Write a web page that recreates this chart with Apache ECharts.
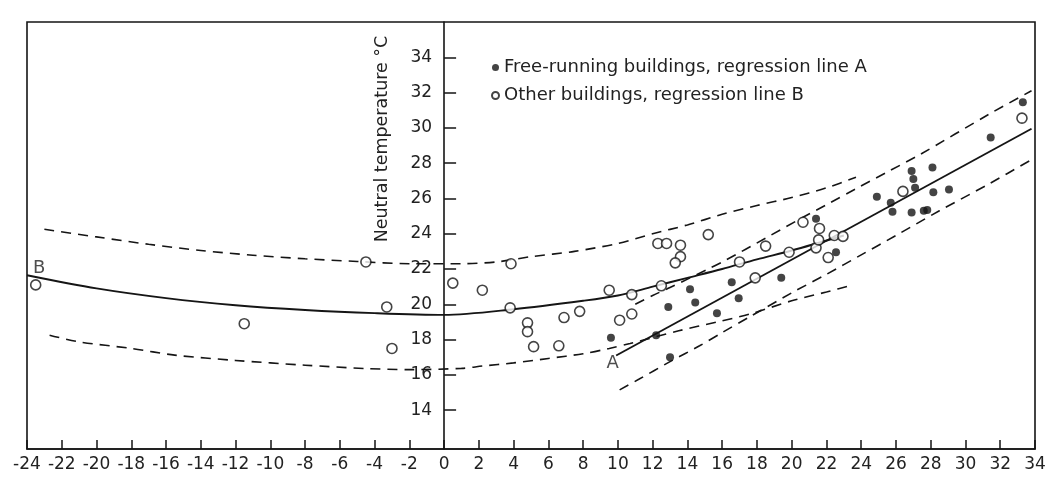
<!DOCTYPE html>
<html>
<head>
<meta charset="utf-8">
<script src="https://cdn.jsdelivr.net/npm/echarts@6/dist/echarts.min.js"></script>
<style>
html,body{margin:0;padding:0;background:#fff;}
#chart{width:1050px;height:477px;}
</style>
</head>
<body>
<div id="chart"></div>
<script>
// ---- data ----
const xTicks = { min: -24, max: 34, step: 2 };
const yTickValues = [14, 16, 18, 20, 22, 24, 26, 28, 30, 32, 34];
const yRange = [11.8, 36];

const seriesNames = ['Free-running buildings, regression line A', 'Other buildings, regression line B'];
const yAxisTitle = 'Neutral temperature °C';

// Free-running buildings (filled dots)
const freeRunning = [
  [9.6, 18.1], [12.2, 18.25], [13.0, 17.0], [12.9, 19.85], [14.15, 20.85],
  [14.45, 20.1], [15.7, 19.5], [16.55, 21.25], [16.95, 20.35], [19.4, 21.5],
  [21.4, 24.85], [22.55, 22.95], [24.9, 26.1], [25.7, 25.75], [25.8, 25.25],
  [26.9, 27.55], [27.0, 27.1], [27.1, 26.6], [26.9, 25.2], [27.6, 25.3],
  [27.8, 25.35], [28.1, 27.75], [28.15, 26.35], [29.05, 26.5], [31.45, 29.45],
  [33.3, 31.45]
];

// Other buildings (open circles)
const otherBuildings = [
  [-23.5, 21.1], [-11.5, 18.9], [-4.5, 22.4], [-3.3, 19.85], [-3.0, 17.5],
  [0.5, 21.2], [2.2, 20.8], [3.85, 22.3], [3.8, 19.8], [4.8, 18.95],
  [4.8, 18.45], [5.15, 17.6], [6.6, 17.65], [6.9, 19.25], [7.8, 19.6],
  [9.5, 20.8], [10.1, 19.1], [10.8, 19.45], [10.8, 20.55], [12.5, 21.05],
  [12.3, 23.45], [12.8, 23.45], [13.6, 23.35], [13.6, 22.7], [13.3, 22.35],
  [15.2, 23.95], [17.0, 22.4], [17.9, 21.5], [18.5, 23.3], [19.85, 22.95],
  [20.65, 24.65], [21.4, 23.2], [21.55, 23.65], [21.6, 24.3], [22.45, 23.9],
  [22.95, 23.85], [22.1, 22.65], [26.4, 26.4], [33.25, 30.55]
];

// Regression line A (straight)
const lineA = [[9.9, 17.1], [33.8, 29.95]];
const lineAUpper = [
  [11, 20.0], [12, 20.5], [13, 20.95], [15.3, 22.05], [16.2, 22.5], [18.5, 23.75],
  [20.5, 24.85], [22.2, 25.75], [23.7, 26.55], [25.5, 27.5], [27.4, 28.5],
  [31.4, 30.8], [33.8, 32.1]
];
const lineALower = [
  [10.1, 15.15], [11.2, 15.75], [13, 16.75], [14.7, 17.65], [16, 18.4], [17.6, 19.3],
  [20, 20.65], [22, 21.7], [24, 22.8], [26, 23.9], [28.5, 25.3], [31.4, 26.85], [33.8, 28.2]
];

// Regression line B (curved)
const lineB = [
  [-24, 21.65], [-20, 20.9], [-16, 20.35], [-12, 19.95], [-8, 19.68], [-4, 19.5],
  [0, 19.4], [4, 19.72], [8, 20.2], [10, 20.5], [12, 21.0], [14, 21.5], [16, 22.0],
  [18, 22.55], [20, 23.05], [23, 23.9]
];
const lineBUpper = [
  [-23, 24.25], [-20, 23.82], [-17, 23.4], [-14, 23.05], [-11, 22.78], [-8, 22.58],
  [-5, 22.43], [-2, 22.3], [1, 22.3], [3, 22.4], [5, 22.7], [7.5, 23.0], [10, 23.45],
  [12, 24.0], [14, 24.5], [16, 25.1], [18, 25.6], [20, 26.05], [22, 26.6], [23.7, 27.2]
];
const lineBLower = [
  [-22.7, 18.25], [-21, 17.87], [-18, 17.5], [-15.5, 17.12], [-12, 16.82], [-8, 16.55],
  [-4.5, 16.36], [-2, 16.3], [1, 16.37], [2.2, 16.5], [4, 16.68], [6, 16.93], [8, 17.2],
  [9.5, 17.5], [10.7, 17.78], [13.5, 18.5], [15.7, 19.0], [17.6, 19.45], [20, 20.2],
  [22, 20.7], [23.5, 21.1]
];

// Line letter annotations
const lineLetters = [[9.7, 16.65, 'A'], [-23.3, 22.05, 'B']];

// ---- chart ----
const ink = '#151515';
const font = 'DejaVu Sans';
const gridLeft = 27;
const chart = echarts.init(document.getElementById('chart'), null, { renderer: 'canvas' });

function band(name, data) {
  return {
    name, type: 'line', data, smooth: 0.3, symbol: 'none', silent: true,
    lineStyle: { color: ink, width: 1.6, type: [10, 7] }, z: 2
  };
}

chart.setOption({
  animation: false,
  backgroundColor: '#fff',
  grid: {
    left: gridLeft, right: 15, top: 22, bottom: 28,
    containLabel: false, outerBoundsMode: 'none',
    show: true, borderColor: ink, borderWidth: 1.6, backgroundColor: 'transparent'
  },
  legend: {
    data: seriesNames,
    orient: 'vertical', left: 486, top: 52,
    icon: 'circle', itemWidth: 7, itemHeight: 7, itemGap: 7, itemTextGap: 10,
    textStyle: { fontFamily: font, fontSize: 18, color: '#222', lineHeight: 21 }
  },
  xAxis: {
    type: 'value', min: xTicks.min, max: xTicks.max, interval: xTicks.step,
    axisLine: { onZero: false, lineStyle: { color: ink, width: 1.6 } },
    axisTick: { inside: true, length: 9, lineStyle: { color: ink, width: 1.5 } },
    axisLabel: { fontFamily: font, fontSize: 17, color: '#222', margin: 7,
      showMinLabel: true, showMaxLabel: true },
    splitLine: { show: false }
  },
  yAxis: {
    type: 'value', min: yRange[0], max: yRange[1], position: 'left', offset: 0,
    axisLine: { show: true, onZero: false, lineStyle: { color: ink, width: 1.6 } },
    axisTick: { show: true, inside: true, length: 12, customValues: yTickValues,
      lineStyle: { color: ink, width: 1.5 } },
    axisLabel: { fontFamily: font, fontSize: 17, color: '#222', margin: 12,
      customValues: yTickValues },
    splitLine: { show: false }
  },
  graphic: [{
    type: 'text', x: 382, y: 139, rotation: Math.PI / 2,
    style: { text: yAxisTitle, fontFamily: font, fontSize: 17.5, fill: '#222',
      align: 'center', verticalAlign: 'middle' }
  }],
  series: [
    band('B upper', lineBUpper),
    band('B lower', lineBLower),
    band('A upper', lineAUpper),
    band('A lower', lineALower),
    { name: 'line B', type: 'line', data: lineB, smooth: 0.3, symbol: 'none', silent: true,
      lineStyle: { color: ink, width: 1.9 }, z: 3 },
    { name: 'line A', type: 'line', data: lineA, symbol: 'none', silent: true,
      lineStyle: { color: ink, width: 1.9 }, z: 3 },
    { name: seriesNames[0], type: 'scatter', data: freeRunning, symbol: 'circle', symbolSize: 8,
      itemStyle: { color: ink }, z: 5 },
    { name: seriesNames[1], type: 'scatter', data: otherBuildings, symbol: 'circle', symbolSize: 10,
      itemStyle: { color: '#fff', borderColor: ink, borderWidth: 1.6 }, z: 5 },
    { name: 'letters', type: 'scatter', silent: true, symbolSize: 1,
      data: lineLetters.map(d => ({ value: [d[0], d[1]], name: d[2] })),
      itemStyle: { color: 'rgba(0,0,0,0)' },
      label: { show: true, position: 'inside', formatter: p => p.name,
        fontFamily: font, fontSize: 18, color: '#222' }, z: 6 }
  ]
});

// Place the y axis (line, ticks and labels) on x = 0, using the x scale
const zeroPx = chart.convertToPixel({ xAxisIndex: 0 }, 0);
chart.setOption({ yAxis: { offset: gridLeft - zeroPx } });
</script>
</body>
</html>
